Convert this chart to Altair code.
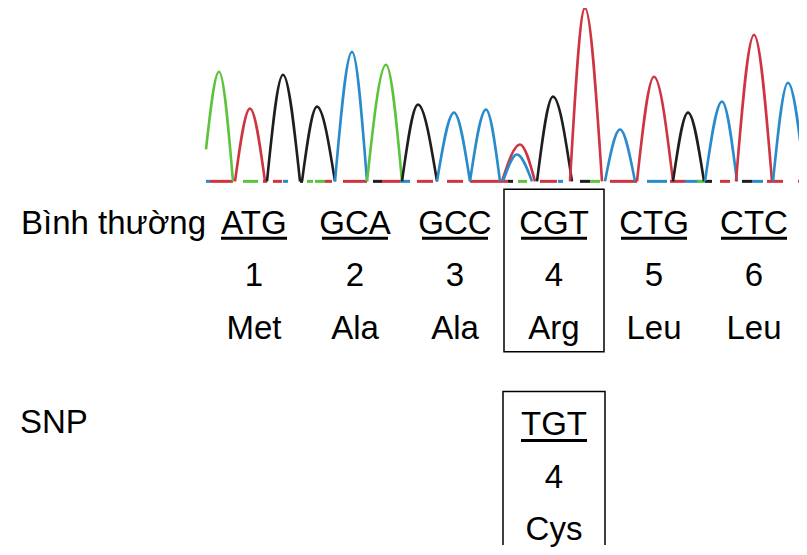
import altair as alt
import pandas as pd

# ---- chromatogram peaks (x in scan position, y in drawing units, baseline = 182) ----
peak_base = ["G", "R", "K", "K", "B", "G", "K", "B", "B", "R", "B", "K", "R", "B", "R", "K", "B", "R", "B"]
peak_apex_x = [219, 250, 283, 317, 352, 386, 418, 454, 486, 520, 517, 553, 585, 620, 654, 688, 722, 754, 788]
peak_apex_y = [72, 109, 75, 107, 52, 65, 105, 113, 110, 145, 155, 97, 8, 130, 77, 113, 102, 35, 83]
peak_left_x = [206, 235, 267, 302, 335, 367, 402, 437, 470, 502, 503, 537, 570, 605, 637, 673, 705, 736, 773]
peak_left_y = [150, 182, 182, 182, 182, 182, 182, 182, 182, 182, 182, 182, 182, 182, 182, 182, 182, 182, 182]
peak_right_x = [233, 265, 300, 335, 367, 402, 437, 470, 500, 535, 532, 572, 602, 635, 673, 704, 737, 772, 805]
BASELINE = 182

# ---- noisy baseline segments ----
seg_x1 = [206, 210, 243, 263, 273, 283, 300, 307, 315, 325, 343, 373, 382, 400, 417, 447, 470,
          500, 508, 518, 540, 558, 580, 590, 610, 647, 670, 685, 697, 705, 720, 742, 752, 767, 798]
seg_x2 = [210, 233, 258, 267, 282, 288, 303, 313, 325, 332, 367, 382, 400, 410, 433, 463, 500,
          508, 513, 527, 557, 563, 590, 600, 637, 667, 685, 700, 705, 712, 730, 752, 763, 783, 803]
seg_base = ["B", "R", "G", "R", "R", "B", "K", "G", "G", "R", "R", "K", "R", "B", "R", "R", "R",
            "R", "K", "G", "R", "B", "K", "G", "R", "B", "R", "B", "G", "K", "R", "K", "B", "R", "R"]

base_names = ["G", "R", "K", "B"]
base_colors = ["#5cc43c", "#cf3443", "#1e1e1e", "#2a8bcb"]

# ---- sequence annotation ----
codons = ["ATG", "GCA", "GCC", "CGT", "CTG", "CTC"]
codon_no = ["1", "2", "3", "4", "5", "6"]
amino = ["Met", "Ala", "Ala", "Arg", "Leu", "Leu"]
codon_x = [254, 355, 455, 554, 654, 754]

snp_codon = "TGT"
snp_no = "4"
snp_amino = "Cys"
snp_x = 554

row_labels = ["Bình thường", "SNP"]
row_label_x = [21, 20]
row_label_y = [235, 435]

rows_normal_y = [235, 287, 340]
rows_snp_y = [437, 490, 542]

FONT = "Liberation Sans"
FS = 33
UL_HALF = 33

# ---- build tables ----
trace_rows = []
for i in range(len(peak_base)):
    trace_rows.append(dict(peak=i, ord=0, x=peak_left_x[i], y=peak_left_y[i], base=peak_base[i]))
    trace_rows.append(dict(peak=i, ord=1, x=peak_apex_x[i], y=peak_apex_y[i], base=peak_base[i]))
    trace_rows.append(dict(peak=i, ord=2, x=peak_right_x[i], y=BASELINE, base=peak_base[i]))
trace_df = pd.DataFrame(trace_rows)

seg_df = pd.DataFrame(dict(x=seg_x1, x2=seg_x2, base=seg_base, y=[BASELINE] * len(seg_x1)))

text_rows = []
for i in range(len(codons)):
    text_rows.append(dict(x=codon_x[i], y=rows_normal_y[0], t=codons[i]))
    text_rows.append(dict(x=codon_x[i], y=rows_normal_y[1], t=codon_no[i]))
    text_rows.append(dict(x=codon_x[i], y=rows_normal_y[2], t=amino[i]))
text_rows.append(dict(x=snp_x, y=rows_snp_y[0], t=snp_codon))
text_rows.append(dict(x=snp_x, y=rows_snp_y[1], t=snp_no))
text_rows.append(dict(x=snp_x, y=rows_snp_y[2], t=snp_amino))
text_df = pd.DataFrame(text_rows)

ul_rows = [dict(x=c, y=rows_normal_y[0] + 4) for c in codon_x] + [dict(x=snp_x, y=rows_snp_y[0] + 5)]
ul_df = pd.DataFrame(ul_rows)

label_df = pd.DataFrame(dict(x=row_label_x, y=row_label_y, t=row_labels))

box_df = pd.DataFrame(dict(x=[504, 503], x2=[604, 605], y=[190, 393], y2=[353, 570]))

xs = alt.Scale(domain=[8, 799])
ys = alt.Scale(domain=[8, 547], reverse=True)
cs = alt.Scale(domain=base_names, range=base_colors)

X = lambda f="x": alt.X(f"{f}:Q", scale=xs, axis=None)
Y = lambda f="y": alt.Y(f"{f}:Q", scale=ys, axis=None)

baseline_layer = alt.Chart(seg_df).mark_rule(strokeWidth=3, clip=True).encode(
    x=X(), x2="x2:Q", y=Y(), color=alt.Color("base:N", scale=cs, legend=None)
)

trace_layer = alt.Chart(trace_df).mark_line(
    interpolate="monotone", strokeWidth=2.6, clip=True
).encode(
    x=X(), y=Y(),
    color=alt.Color("base:N", scale=cs, legend=None),
    detail="peak:N",
    order="ord:Q",
)

text_layer = alt.Chart(text_df).mark_text(
    font=FONT, fontSize=FS, align="center", baseline="alphabetic", color="black"
).encode(x=X(), y=Y(), text="t:N")

label_layer = alt.Chart(label_df).mark_text(
    font=FONT, fontSize=FS, align="left", baseline="alphabetic", color="black"
).encode(x=X(), y=Y(), text="t:N")

ul_layer = alt.Chart(ul_df).transform_calculate(
    xa=f"datum.x - {UL_HALF}", xb=f"datum.x + {UL_HALF}"
).mark_rule(strokeWidth=3, color="black").encode(
    x=X("xa"), x2="xb:Q", y=Y()
)

box_layer = alt.Chart(box_df).mark_rect(
    fill=None, fillOpacity=0, stroke="black", strokeWidth=1.5, clip=True
).encode(x=X(), x2="x2:Q", y=Y(), y2="y2:Q")

chart = alt.layer(
    baseline_layer, trace_layer, box_layer, ul_layer, text_layer, label_layer
).properties(
    width=791, height=539,
    autosize=alt.AutoSizeParams(type="fit", contains="padding"),
    padding=0,
).configure(background="white").configure_view(stroke=None)

chart.save("out.html", embed_options={"renderer": "svg", "actions": False})
